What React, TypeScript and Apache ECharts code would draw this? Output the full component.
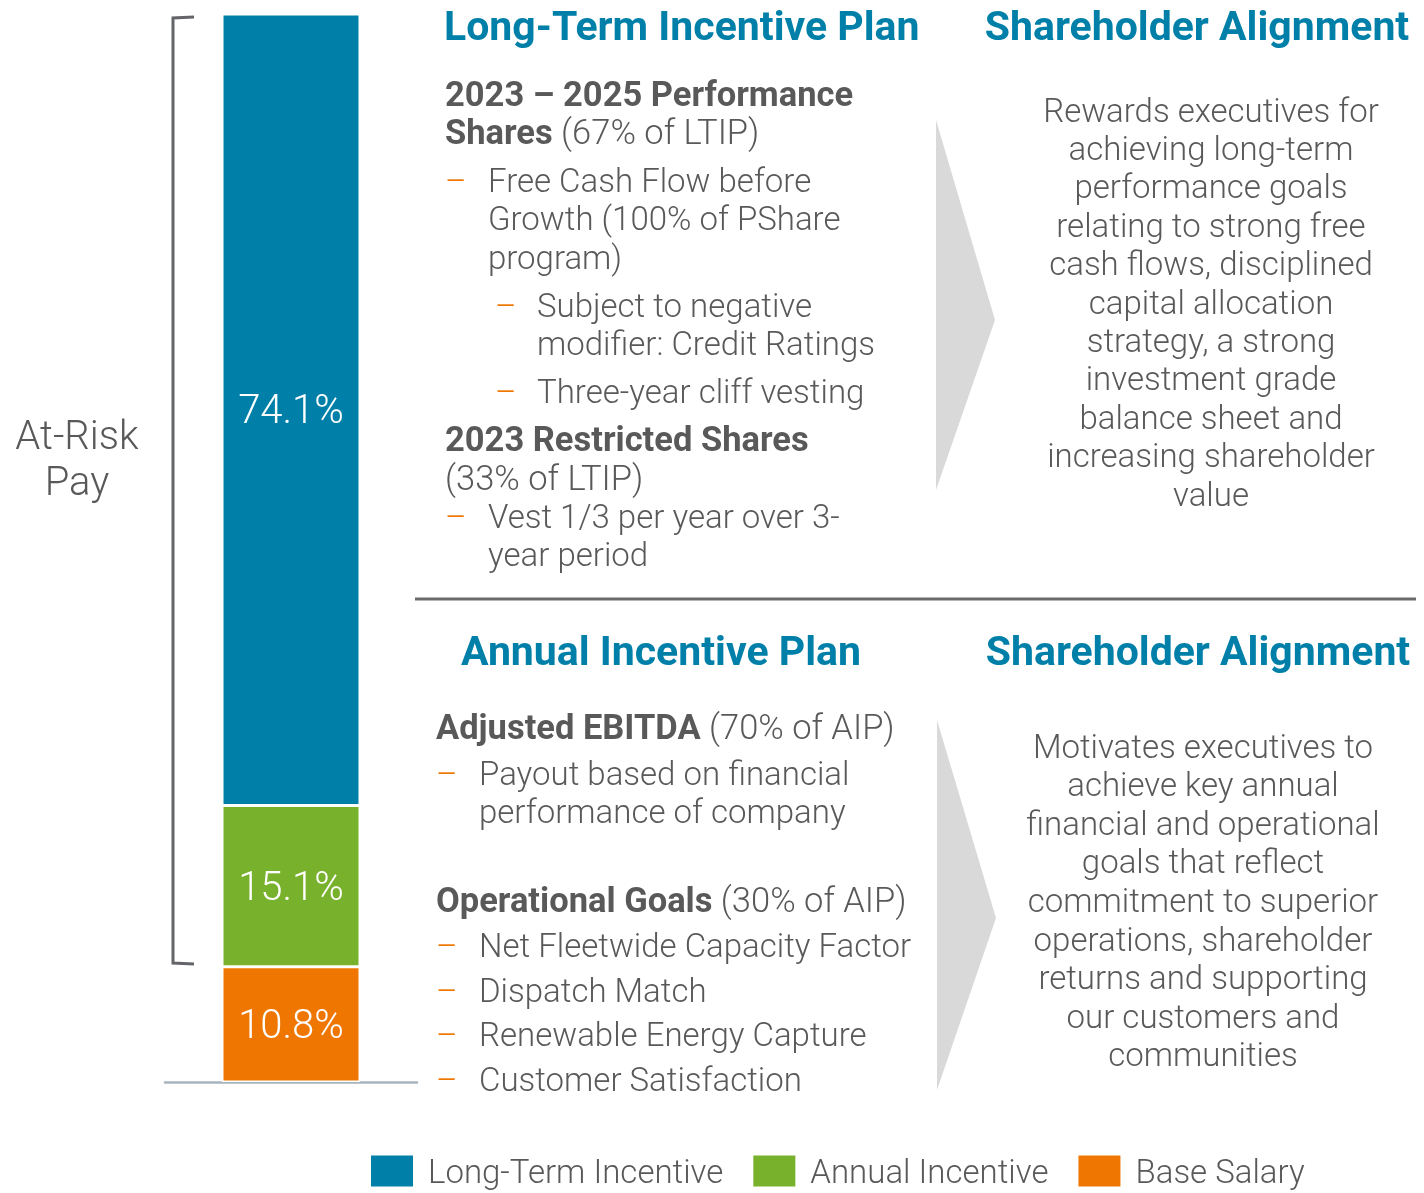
import React, { useEffect, useRef } from "react";
import * as echarts from "echarts";

// ---- Data ----
const categories = ["Target Pay Mix"];
const seriesNames = ["Base Salary", "Annual Incentive", "Long-Term Incentive"];
const baseSalary = [10.8];
const annualIncentive = [15.1];
const longTermIncentive = [74.1];
const legendOrder = ["Long-Term Incentive", "Annual Incentive", "Base Salary"];
const colors = { lti: "#0080a8", aip: "#78b12b", base: "#ee7601" };

// ---- Text content ----
const ltipTitle = "Long-Term Incentive Plan";
const aipTitle = "Annual Incentive Plan";
const alignTitle = "Shareholder Alignment";
const atRisk = ["At-Risk", "Pay"];
const ltipAlign = [
  "Rewards executives for",
  "achieving long-term",
  "performance goals",
  "relating to strong free",
  "cash flows, disciplined",
  "capital allocation",
  "strategy, a strong",
  "investment grade",
  "balance sheet and",
  "increasing shareholder",
  "value",
];
const aipAlign = [
  "Motivates executives to",
  "achieve key annual",
  "financial and operational",
  "goals that reflect",
  "commitment to superior",
  "operations, shareholder",
  "returns and supporting",
  "our customers and",
  "communities",
];
// [kind, text, y] kind: h=bold heading, r=rich, d1=dash level1, c1=continuation lvl1, d2, c2
const ltipLines: [string, string, number][] = [
  ["h", "2023 – 2025 Performance", 94],
  ["r", "{b|Shares}{p| (67% of LTIP)}", 132],
  ["d1", "Free Cash Flow before", 180],
  ["c1", "Growth (100% of PShare", 218],
  ["c1", "program)", 257],
  ["d2", "Subject to negative", 305],
  ["c2", "modifier: Credit Ratings", 343],
  ["d2", "Three-year cliff vesting", 391],
  ["h", "2023 Restricted Shares", 439],
  ["r", "{p|(33% of LTIP)}", 478],
  ["d1", "Vest 1/3 per year over 3-", 516],
  ["c1", "year period", 554],
];
const aipLines: [string, string, number][] = [
  ["r", "{b|Adjusted EBITDA}{p| (70% of AIP)}", 727],
  ["d1", "Payout based on financial", 773],
  ["c1", "performance of company", 811],
  ["r", "{b|Operational Goals}{p| (30% of AIP)}", 900],
  ["d1", "Net Fleetwide Capacity Factor", 945],
  ["d1", "Dispatch Match", 990],
  ["d1", "Renewable Energy Capture", 1034],
  ["d1", "Customer Satisfaction", 1079],
];

const FONT = "Roboto";
const GRAY = "#595959";
const BODY = 33;
const BOLD = 34.5;

function txt(x: number, y: number, text: string, opts: any = {}) {
  return {
    type: "text",
    x,
    y,
    silent: true,
    style: {
      text,
      fontFamily: FONT,
      fontSize: BODY,
      fontWeight: 300,
      fill: GRAY,
      textAlign: "left",
      textVerticalAlign: "middle",
      verticalAlign: "middle",
      ...opts,
    },
  };
}

function bulletBlock(lines: [string, string, number][], x0: number) {
  const els: any[] = [];
  const rich = {
    b: { fontWeight: "bold", fontFamily: FONT, fontSize: BOLD, fill: GRAY },
    p: { fontWeight: 300, fontFamily: FONT, fontSize: 34.5, fill: GRAY },
  };
  for (const [kind, t, y] of lines) {
    if (kind === "h") els.push(txt(x0, y, t, { fontWeight: "bold", fontSize: BOLD }));
    else if (kind === "r") els.push(txt(x0, y, t, { rich }));
    else if (kind === "d1") {
      els.push(txt(x0, y, "–", { fill: colors.base }));
      els.push(txt(x0 + 43, y, t));
    } else if (kind === "c1") els.push(txt(x0 + 43, y, t));
    else if (kind === "d2") {
      els.push(txt(x0 + 50, y, "–", { fill: colors.base }));
      els.push(txt(x0 + 92, y, t));
    } else if (kind === "c2") els.push(txt(x0 + 92, y, t));
  }
  return els;
}

function centeredBlock(lines: string[], cx: number, y0: number, step: number) {
  return lines.map((t, i) => txt(cx, y0 + i * step, t, { textAlign: "center" }));
}

export default function App() {
  const ref = useRef<HTMLDivElement>(null);
  useEffect(() => {
    if (!ref.current) return;
    const chart = echarts.init(ref.current, null, { renderer: "svg" });
    const titleStyle = { fontWeight: "bold", fontSize: 41, fill: "#0080a8" };
    const graphic: any[] = [
      // bracket
      {
        type: "polyline",
        silent: true,
        shape: { points: [[194, 17], [173, 18], [173, 963], [194, 964]] },
        style: { stroke: "#636569", lineWidth: 3, fill: null },
      },
      txt(77, 435, atRisk[0], { textAlign: "center", fontSize: 40 }),
      txt(77, 481, atRisk[1], { textAlign: "center", fontSize: 40 }),
      // titles
      txt(444, 26, ltipTitle, titleStyle),
      txt(1197, 26, alignTitle, { ...titleStyle, textAlign: "center" }),
      txt(661, 651, aipTitle, { ...titleStyle, textAlign: "center" }),
      txt(1198, 651, alignTitle, { ...titleStyle, textAlign: "center" }),
      // separator
      {
        type: "line",
        silent: true,
        shape: { x1: 415, y1: 599, x2: 1416, y2: 599 },
        style: { stroke: "#6a6a6a", lineWidth: 3 },
      },
      // arrows
      {
        type: "polygon",
        silent: true,
        shape: { points: [[936, 120], [995, 320], [936, 490]] },
        style: { fill: "#d9d9d9" },
      },
      {
        type: "polygon",
        silent: true,
        shape: { points: [[937, 720], [996, 918], [937, 1090]] },
        style: { fill: "#d9d9d9" },
      },
      ...bulletBlock(ltipLines, 445),
      ...bulletBlock(aipLines, 436),
      ...centeredBlock(ltipAlign, 1211, 110, 38.4),
      ...centeredBlock(aipAlign, 1203, 746, 38.6),
    ];

    const seriesData = [baseSalary, annualIncentive, longTermIncentive];
    const seriesColors = [colors.base, colors.aip, colors.lti];

    chart.setOption({
      animation: false,
      grid: { left: 165, width: 252, top: 14, height: 1068 },
      xAxis: {
        type: "category",
        data: categories,
        axisLine: { show: true, lineStyle: { color: "#a9b4bd", width: 2.5 } },
        axisTick: { show: false },
        axisLabel: { show: false },
      },
      yAxis: { type: "value", min: 0, max: 100, show: false, splitLine: { show: false } },
      legend: {
        data: legendOrder,
        left: 366,
        top: 1149,
        itemWidth: 42,
        itemHeight: 31,
        itemGap: 30,
        icon: "rect",
        itemStyle: { borderWidth: 0 },
        textStyle: {
          fontFamily: FONT,
          fontSize: 33,
          lineHeight: 34,
          fontWeight: 300,
          color: GRAY,
          padding: [0, 0, 0, 10],
        },
      },
      series: seriesNames.map((name, i) => ({
        name,
        type: "bar",
        stack: "pay",
        barWidth: 138,
        data: seriesData[i],
        itemStyle: { color: seriesColors[i], borderColor: "#ffffff", borderWidth: 1.5 },
        label: {
          show: true,
          position: "inside",
          formatter: (p: any) => `${p.value}%`,
          color: "#ffffff",
          fontFamily: FONT,
          fontSize: 40,
          fontWeight: 300,
        },
      })),
      graphic,
    });
    return () => chart.dispose();
  }, []);
  return (
    <div
      ref={ref}
      style={{ position: "fixed", left: 0, top: 0, width: 1424, height: 1193 }}
    />
  );
}
